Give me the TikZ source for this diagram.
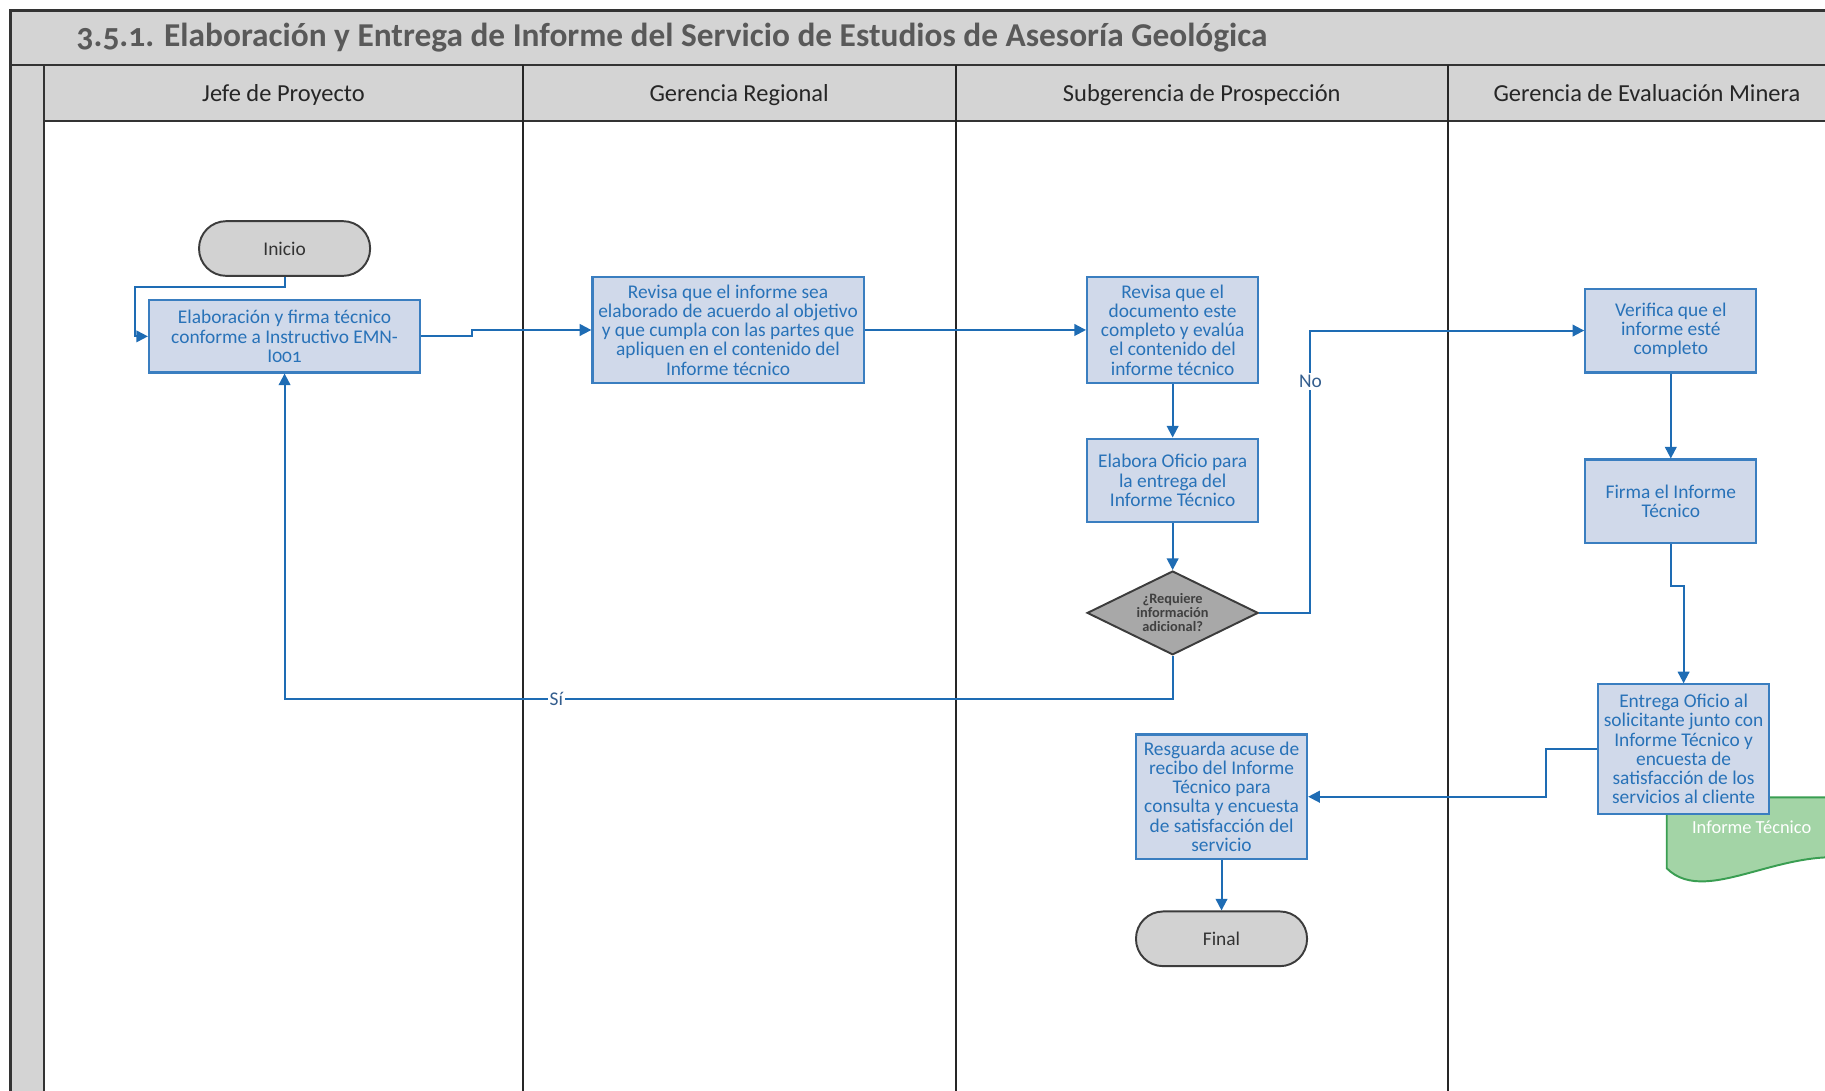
\documentclass[tikz,border=0pt]{standalone}
\usepackage{fontspec}
\setmainfont{Carlito}[Numbers=OldStyle]
\usetikzlibrary{arrows.meta, positioning, shapes.geometric, calc}
\definecolor{HeadGrey}{RGB}{212, 212, 212}
\definecolor{TitleGrey}{RGB}{89, 89, 89}
\definecolor{BoxFill}{RGB}{208, 217, 234}
\definecolor{BoxLine}{RGB}{58, 126, 192}
\definecolor{BoxText}{RGB}{40, 114, 184}
\definecolor{FlowBlue}{RGB}{30, 108, 180}
\definecolor{TermFill}{RGB}{210, 210, 210}
\definecolor{TermLine}{RGB}{60, 60, 60}
\definecolor{DecFill}{RGB}{168, 168, 168}
\definecolor{DocFill}{RGB}{163, 212, 166}
\definecolor{DocLine}{RGB}{58, 158, 82}
\definecolor{LabelBlue}{RGB}{52, 94, 142}

\begin{document}
\begin{tikzpicture}[
        x = 0.6pt, y = -0.6pt,
        lane/.style = {
            line width = 1.1pt,
            black!85
        },
        band/.style = {
            line width = 1.1pt,
            draw = black!80,
            fill = HeadGrey
        },
        head/.style = {
            anchor = base,
            text = black!85,
            font = {\fontsize{12.6}{14}\selectfont}
        },
        proc/.style = {
            draw = BoxLine,
            fill = BoxFill,
            line width = 1.1pt,
            text = BoxText,
            align = center,
            inner sep = 2pt,
            minimum width = 88.2pt,
            font = {\fontsize{10}{9.9}\selectfont}
        },
        wideproc/.style = {
            proc,
            minimum width = 139.8pt
        },
        term/.style = {
            draw = TermLine,
            fill = TermFill,
            line width = 1pt,
            rounded corners = 14pt,
            minimum width = 88.2pt,
            minimum height = 28.2pt,
            text = black!80,
            font = {\fontsize{10}{11}\selectfont}
        },
        dec/.style = {
            diamond,
            draw = TermLine,
            fill = DecFill,
            line width = 1pt,
            aspect = 2,
            inner sep = 0pt,
            minimum width = 88.2pt,
            minimum height = 43.2pt,
            align = center,
            text = black!75,
            font = {\bfseries\fontsize{7.4}{7.2}\selectfont}
        },
        sarr/.style = {
            -{Triangle[length = 6pt, width = 6pt]},
            line width = 1pt,
            FlowBlue
        },
        lbl/.style = {
            fill = white,
            inner sep = 1pt,
            text = LabelBlue,
            font = {\fontsize{10}{11}\selectfont}
        },
        node distance = 26pt
    ]
        \useasboundingbox (0,0) rectangle (1568,937);
        \clip (0,0) rectangle (1568,937);

        % marco y carriles
        \draw[band] (9,9) rectangle (1600,56);
        \draw[band] (38,56) rectangle (1600,104);
        \draw[band] (9,56) rectangle (38,960);
        \foreach \x in {449, 821, 1244, 1586}
            \draw[lane] (\x,56) -- (\x,960);

        \node[anchor = west, text = TitleGrey, font = {\bfseries\fontsize{17.2}{20}\selectfont}] (title) at (60,32)
            {3.5.1. Elaboración y Entrega de Informe del Servicio de Estudios de Asesoría Geológica};
        \node[head] (h1) at (243.5,87) {Jefe de Proyecto};
        \node[head] (h2) at (635,87) {Gerencia Regional};
        \node[head] (h3) at (1032.5,87) {Subgerencia de Prospección};
        \node[head] (h4) at (1415,87) {Gerencia de Evaluación Minera};

        % documento
        \draw[DocLine, fill = DocFill, line width = 1pt] (1432,685) -- (1432,746)
            .. controls (1468,782) and (1540,718) .. (1610,742) -- (1610,685) -- cycle;
        \node[text = white, font = {\fontsize{9.5}{11}\selectfont}] (doc) at (1505,711) {Informe Técnico};

        % pasos
        \node[term] (ini) at (244.5,213.5) {Inicio};
        \node[wideproc, minimum height = 37.2pt] (e1) at (244.5,289)
            {Elaboración y firma técnico\\conforme a Instructivo EMN-\\I001};
        \node[wideproc, minimum height = 54.6pt] (r1) at (625.5,283.5)
            {Revisa que el informe sea\\elaborado de acuerdo al objetivo\\y que cumpla con las partes que\\apliquen en el contenido del\\Informe técnico};
        \node[proc, minimum height = 54.6pt] (r2) at (1007.5,283.5)
            {Revisa que el\\documento este\\completo y evalúa\\el contenido del\\informe técnico};
        \node[proc, minimum height = 43.2pt, below = 27.6pt of r2] (o1)
            {Elabora Oficio para\\la entrega del\\Informe Técnico};
        \node[dec, below = 24pt of o1] (q1)
            {¿Requiere\\información\\adicional?};
        \node[proc, minimum height = 43.2pt] (v1) at (1435.5,284)
            {Verifica que el\\informe esté\\completo};
        \node[proc, minimum height = 43.2pt, below = 43.8pt of v1] (f1)
            {Firma el Informe\\Técnico};
        \node[proc, minimum height = 66.6pt] (en) at (1446.5,643.5)
            {Entrega Oficio al\\solicitante junto con\\Informe Técnico y\\encuesta de\\satisfacción de los\\servicios al cliente};
        \node[proc, minimum height = 64.2pt] (rs) at (1049.5,684.5)
            {Resguarda acuse de\\recibo del Informe\\Técnico para\\consulta y encuesta\\de satisfacción del\\servicio};
        \node[term, below = of rs] (fin) {Final};

        % flujo
        \draw[sarr] (ini.south) -- ++(0,9) -| ([xshift = -6.6pt]e1.west) -- (e1.west);
        \draw[sarr] (e1.east) -- ++(44,0) |- (r1.west);
        \draw[sarr] (r1.east) -- (r2.west);
        \draw[sarr] (r2) -- (o1);
        \draw[sarr] (o1) -- (q1);
        \draw[sarr] (q1.east) -- ++(44,0) |- node[lbl, pos = 0.41] {No} (v1.west);
        \draw[sarr] (q1.south) -- ++(0,37) -| node[lbl, pos = 0.347] {Sí} (e1.south);
        \draw[sarr] (v1) -- (f1);
        \draw[sarr] (f1.south) -- ++(0,36) -| (en.north);
        \draw[sarr] (en.west) -- ++(-44,0) |- (rs.east);
        \draw[sarr] (rs) -- (fin);
    \end{tikzpicture}
\end{document}
